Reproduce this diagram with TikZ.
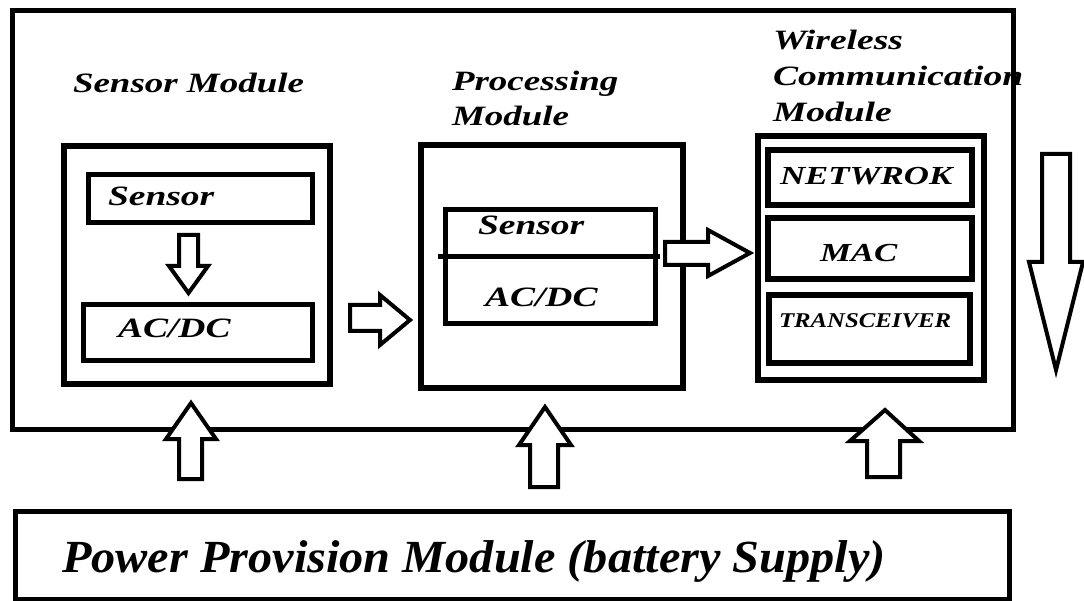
\documentclass[tikz,border=0pt]{standalone}
\usepackage{fontspec}
\usepackage{graphicx}
\setmainfont{Liberation Serif}
\newcommand\wtext[2]{\scalebox{#1}[1]{#2}}
\begin{document}
\begin{tikzpicture}[x=1pt,y=-1pt,
  boxst/.style={draw=black, fill=none, inner sep=0pt, outer sep=0pt},
  lbl/.style={anchor=base west, inner sep=0pt, outer sep=0pt, font=\bfseries\itshape},
  big/.style={lbl, font=\fontsize{28}{28}\selectfont\bfseries\itshape},
  barrow/.style={draw=black, fill=white, line width=4pt, line join=miter}]
\useasboundingbox (0,0) rectangle (1084,601);
\fill[white] (0,0) rectangle (1084,601);
% outer box
\node[boxst, line width=5pt, minimum width=1001pt, minimum height=418pt] (outer) at (512.5,220) {};
% sensor module
\node[boxst, line width=6pt, minimum width=266pt, minimum height=238pt] (sensmod) at (197,265) {};
\node[boxst, line width=5pt, minimum width=224pt, minimum height=48pt] (sens) at (200,199) {};
\node[boxst, line width=5pt, minimum width=229pt, minimum height=56pt] (acdc) at (197.5,333) {};
% processing module
\node[boxst, line width=6pt, minimum width=262pt, minimum height=243pt] (proc) at (552,266.5) {};
\node[boxst, line width=5pt, minimum width=210pt, minimum height=114pt] (procin) at (550,267) {};
\coordinate (divl) at (438,257);
\coordinate (divr) at (660,257);
\draw[line width=5pt] (divl) -- (divr);
% wireless module
\node[boxst, line width=6pt, minimum width=226pt, minimum height=244pt] (wire) at (871,258) {};
\node[boxst, line width=6pt, minimum width=204pt, minimum height=55pt] (net) at (870,177.5) {};
\node[boxst, line width=6pt, minimum width=204pt, minimum height=61pt] (mac) at (870,248.5) {};
\node[boxst, line width=6pt, minimum width=201pt, minimum height=68pt] (trx) at (869.5,329) {};
% power box
\node[boxst, line width=5pt, minimum width=994pt, minimum height=88pt] (power) at (512,555) {};

% labels
\node[big] (tsm) at (73,93) {\wtext{1.32}{Sensor Module}};
\node[big] (tpm1) at (452,91) {\wtext{1.32}{Processing}};
\node[big] (tpm2) at (452,126) {\wtext{1.32}{Module}};
\node[big] (tw1) at (773,50) {\wtext{1.34}{Wireless}};
\node[big] (tw2) at (773,86) {\wtext{1.34}{Communication}};
\node[big] (tw3) at (773,122) {\wtext{1.34}{Module}};
\node[big] (tsens) at (108,206) {\wtext{1.34}{Sensor}};
\node[big] (tacdc) at (118,338) {\wtext{1.34}{AC/DC}};
\node[big] (tpsens) at (478,235) {\wtext{1.34}{Sensor}};
\node[big] (tpacdc) at (485,307) {\wtext{1.34}{AC/DC}};
\node[lbl, font=\fontsize{26}{26}\selectfont\bfseries\itshape] (tnet) at (780,185) {\wtext{1.34}{NETWROK}};
\node[lbl, font=\fontsize{26}{26}\selectfont\bfseries\itshape] (tmac) at (820,262) {\wtext{1.34}{MAC}};
\node[lbl, font=\fontsize{21}{21}\selectfont\bfseries\itshape] (ttrx) at (779,328) {\wtext{1.18}{TRANSCEIVER}};
\node[lbl, font=\fontsize{46}{46}\selectfont\bfseries\itshape] (tpow) at (62,572) {\wtext{1.05}{Power Provision Module (battery Supply)}};

% block arrows
% sensor -> AC/DC
\draw[barrow] (179,235) -- (198,235) -- (198,266) -- (208,266) -- (188.5,293) -- (169,266) -- (179,266) -- cycle;
% sensor module -> processing
\draw[barrow] (350,305) -- (380,305) -- (380,295) -- (410,320) -- (380,345) -- (380,331) -- (350,331) -- cycle;
% processing -> wireless
\draw[barrow] (665,242) -- (708,242) -- (708,230) -- (750,253) -- (708,276) -- (708,265) -- (665,265) -- cycle;
% output arrow
\draw[barrow] (1042,154) -- (1070,154) -- (1070,262) -- (1083,262) -- (1056,370) -- (1029,262) -- (1042,262) -- cycle;
% power arrows
\draw[barrow] (179,479) -- (179,439) -- (166,439) -- (191,403) -- (216,439) -- (202,439) -- (202,479) -- cycle;
\draw[barrow] (530,487) -- (530,445) -- (519,445) -- (545,407) -- (571,445) -- (558,445) -- (558,487) -- cycle;
\draw[barrow] (867,477) -- (867,441) -- (850,441) -- (885,410) -- (919,441) -- (900,441) -- (900,477) -- cycle;
\end{tikzpicture}
\end{document}
